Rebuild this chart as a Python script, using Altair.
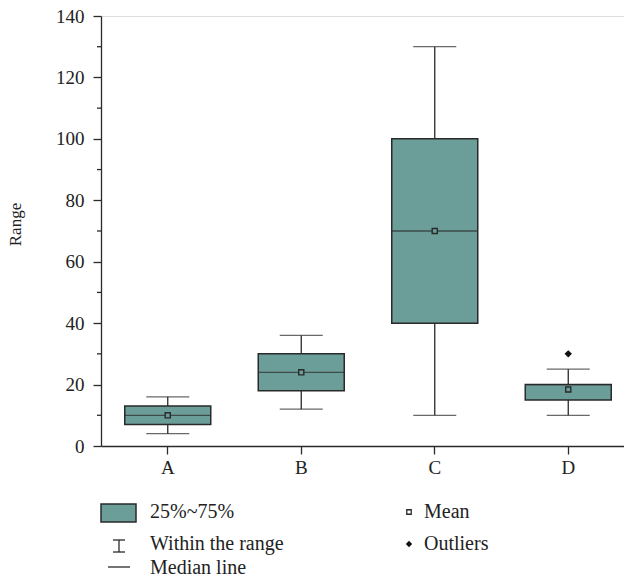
import altair as alt
import pandas as pd

# ---- data ----
categories = ["A", "B", "C", "D"]
whisker_low = [4, 12, 10, 10]
q1 = [7, 18, 40, 15]
median = [10, 24, 70, 20]
q3 = [13, 30, 100, 20]
whisker_high = [16, 36, 130, 25]
means = [10, 24, 70, 18.4]
outlier_cats = ["D"]
outlier_vals = [30]
y_ticks = [0, 20, 40, 60, 80, 100, 120, 140]
minor_ticks = [10, 30, 50, 70, 90, 110, 130]

FILL = "#6b9d99"
DARK = "#2a2a2a"
FONT = "Liberation Serif"

df = pd.DataFrame({
    "cat": categories, "low": whisker_low, "q1": q1, "med": median,
    "q3": q3, "high": whisker_high, "mean": means,
})
out_df = pd.DataFrame({"cat": outlier_cats, "val": outlier_vals})
minor_df = pd.DataFrame({"v": minor_ticks})

xscale = alt.Scale(domain=categories, range=[0, 534], paddingInner=0, paddingOuter=0)
yscale = alt.Scale(domain=[0, 140], nice=False)

x_enc = alt.X("cat:N", scale=xscale, sort=categories,
              axis=alt.Axis(title=None, labelAngle=0, labelFontSize=19,
                            labelPadding=4, tickSize=8, domainColor=DARK,
                            tickColor=DARK, labelColor="#222", domainWidth=1.3,
                            tickWidth=1.3, labelFont=FONT))
y_axis = alt.Axis(title="Range", values=y_ticks, grid=False, labelFontSize=19,
                  labelPadding=9, tickSize=8, domainColor=DARK, tickColor=DARK,
                  labelColor="#222", domainWidth=1.3, tickWidth=1.3,
                  titleFontSize=17, titleFontWeight="normal", titleColor="#222",
                  titleAngle=-90, titleX=-81, titleY=208, titleAlign="center",
                  titleBaseline="alphabetic", labelFont=FONT, titleFont=FONT)

base = alt.Chart(df)

whisker = base.mark_rule(color=DARK, strokeWidth=1.3).encode(
    x=x_enc, y=alt.Y("low:Q", scale=yscale, axis=y_axis), y2="high:Q")
cap_low = base.mark_tick(color=DARK, size=43, thickness=1.3).encode(
    x=alt.X("cat:N", scale=xscale, sort=categories), y="low:Q")
cap_high = base.mark_tick(color=DARK, size=43, thickness=1.3).encode(
    x=alt.X("cat:N", scale=xscale, sort=categories), y="high:Q")
box = base.mark_bar(size=86, fill=FILL, stroke=DARK, strokeWidth=1.5).encode(
    x=alt.X("cat:N", scale=xscale, sort=categories), y="q1:Q", y2="q3:Q")
med = base.mark_tick(color=DARK, size=86, thickness=1.3).encode(
    x=alt.X("cat:N", scale=xscale, sort=categories), y="med:Q")
mean_pt = base.mark_point(shape="square", size=26, filled=False, stroke=DARK,
                          fill=FILL, fillOpacity=1, strokeWidth=1.4, opacity=1).encode(
    x=alt.X("cat:N", scale=xscale, sort=categories), y="mean:Q")
outl = alt.Chart(out_df).mark_point(shape="diamond", size=55, filled=True,
                                    color="#111", opacity=1).encode(
    x=alt.X("cat:N", scale=xscale, sort=categories), y="val:Q")
minor = alt.Chart(minor_df).mark_rule(color=DARK, strokeWidth=1.3).encode(
    x=alt.value(-4), x2=alt.value(0), y=alt.Y("v:Q", scale=yscale))

# ---- custom legend (below the plot) ----
one = pd.DataFrame({"k": [0]})
def lc():
    return alt.Chart(one)

leg_rect = lc().mark_rect(fill=FILL, stroke=DARK, strokeWidth=1.5).encode(
    x=alt.value(0), x2=alt.value(35), y=alt.value(488), y2=alt.value(506))
leg_i_v = lc().mark_rule(color=DARK, strokeWidth=1.3).encode(
    x=alt.value(18), y=alt.value(524), y2=alt.value(536))
leg_i_t = lc().mark_rule(color=DARK, strokeWidth=1.3).encode(
    x=alt.value(12), x2=alt.value(24), y=alt.value(524))
leg_i_b = lc().mark_rule(color=DARK, strokeWidth=1.3).encode(
    x=alt.value(12), x2=alt.value(24), y=alt.value(536))
leg_med = lc().mark_rule(color=DARK, strokeWidth=1.3).encode(
    x=alt.value(7), x2=alt.value(29), y=alt.value(551))
leg_mean = lc().mark_point(shape="square", size=20, filled=False, stroke=DARK,
                           strokeWidth=1.3, opacity=1).encode(
    x=alt.value(308), y=alt.value(496))
leg_out = lc().mark_point(shape="diamond", size=40, filled=True, color="#111",
                          opacity=1).encode(x=alt.value(308), y=alt.value(528))

def leg_text(label, x, y):
    return alt.Chart(pd.DataFrame({"t": [label]})).mark_text(
        align="left", baseline="middle", fontSize=20, font=FONT, color="#222"
    ).encode(x=alt.value(x), y=alt.value(y), text="t:N")

texts = [
    leg_text("25%~75%", 49, 496),
    leg_text("Within the range", 49, 528),
    leg_text("Median line", 49, 552),
    leg_text("Mean", 323, 496),
    leg_text("Outliers", 323, 528),
]

chart = alt.layer(
    whisker, cap_low, cap_high, box, med, mean_pt, outl, minor,
    leg_rect, leg_i_v, leg_i_t, leg_i_b, leg_med, leg_mean, leg_out, *texts
).properties(
    width=523, height=430,
    autosize=alt.AutoSizeParams(type="none"),
    padding={"left": 93, "top": 8, "right": 0, "bottom": 128},
).configure_view(stroke=None).configure(font=FONT)

chart.save("out.html", embed_options={"renderer": "svg", "actions": False})
